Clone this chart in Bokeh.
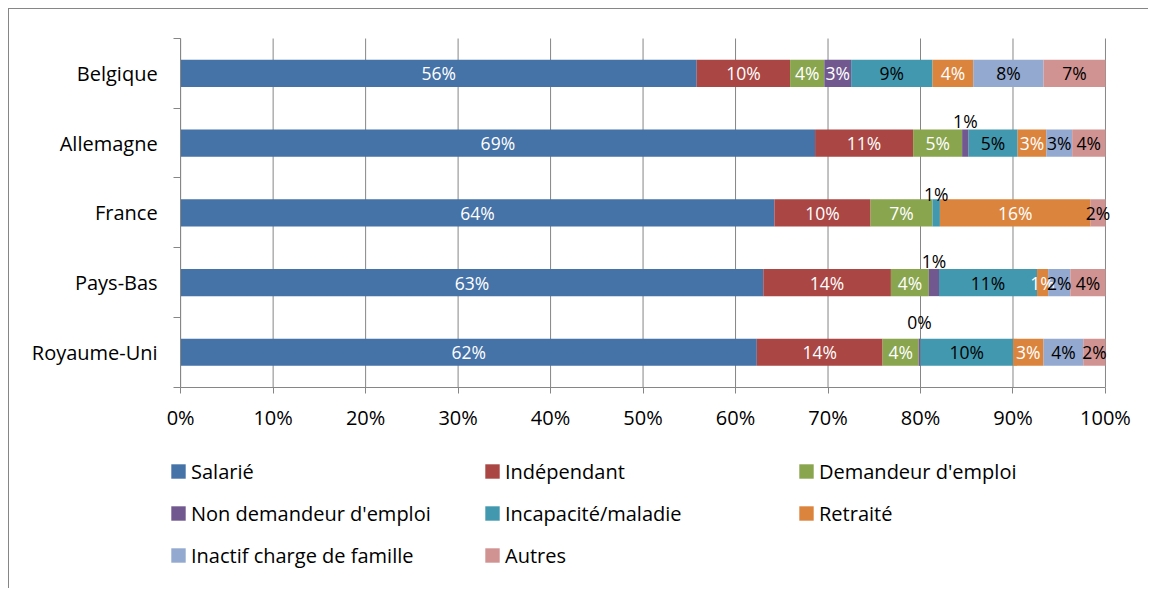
from bokeh.plotting import figure
from bokeh.models import (ColumnDataSource, Range1d, FixedTicker, PrintfTickFormatter,
                          Legend, LegendItem)
from bokeh.core.properties import value
from bokeh.embed import file_html
from bokeh.resources import INLINE

# ---------------- data ----------------
countries = ["Belgique", "Allemagne", "France", "Pays-Bas", "Royaume-Uni"]
series = ["Salarié", "Indépendant", "Demandeur d'emploi", "Non demandeur d'emploi",
          "Incapacité/maladie", "Retraité", "Inactif charge de famille", "Autres"]

salarie       = [55.8, 68.6, 64.2, 63.0, 62.3]
independant   = [10.1, 10.6, 10.4, 13.8, 13.6]
demandeur     = [3.7, 5.3, 6.7, 4.1, 3.9]
non_demandeur = [2.9, 0.7, 0.0, 1.1, 0.2]
incapacite    = [8.8, 5.3, 0.8, 10.6, 10.0]
retraite      = [4.4, 3.1, 16.3, 1.2, 3.3]
inactif       = [7.6, 2.8, 0.0, 2.4, 4.3]
autres        = [6.7, 3.6, 1.6, 3.8, 2.4]

x_ticks = [0, 10, 20, 30, 40, 50, 60, 70, 80, 90, 100]

# ---------------- styles / layout ----------------
values = [salarie, independant, demandeur, non_demandeur, incapacite, retraite, inactif, autres]
colors = ["#4572A7", "#AA4643", "#89A54E", "#71588F", "#4198AF", "#DB843D", "#93A9CF", "#D19392"]
label_colors = ["white", "white", "white", "white", "black", "white", "black", "black"]
label_lift = {("Allemagne", "Non demandeur d'emploi"): -22,
              ("France", "Incapacité/maladie"): -19,
              ("Pays-Bas", "Non demandeur d'emploi"): -22,
              ("Royaume-Uni", "Non demandeur d'emploi"): -30}
GRAY = "#868686"
FONT = "Open Sans"

W, H = 1140, 580               # figure size (1px border inside)
CW, CH = W - 1, H - 1          # canvas size
# plot area of the bars, in canvas pixels
AX_L, AX_R, AX_T, AX_B = 171, 1095, 29, 377
# frame (bigger, so that axis labels and legend fit inside it)
FR_L, FR_R, FR_T, FR_B = 5, 1130, 20, 577

n = len(countries)
xs_per_px = 100.0 / (AX_R - AX_L)
ys_per_px = n / (AX_B - AX_T)
x_range = Range1d(-(AX_L - FR_L) * xs_per_px, 100 + (FR_R - AX_R) * xs_per_px)
y_range = Range1d(-(FR_B - AX_B) * ys_per_px, n + (AX_T - FR_T) * ys_per_px)

ys = [n - i - 0.5 for i in range(n)]
keys = [f"s{j}" for j in range(len(series))]
data = {"y": ys}
for k, vals in zip(keys, values):
    data[k] = vals
src = ColumnDataSource(data)

p = figure(width=W, height=H, x_range=x_range, y_range=y_range,
           output_backend="svg", toolbar_location=None,
           min_border_left=FR_L, min_border_right=CW - FR_R,
           min_border_top=FR_T, min_border_bottom=CH - FR_B,
           outline_line_color=None,
           styles={"position": "relative", "left": "8px", "top": "8px",
                   "border-left": f"1px solid {GRAY}", "border-top": f"1px solid {GRAY}"})

# vertical gridlines limited to the bar area
p.segment(x0=x_ticks, y0=[0] * len(x_ticks), x1=x_ticks, y1=[n] * len(x_ticks),
          line_color=GRAY, line_width=1)

renderers = p.hbar_stack(keys, y="y", height=0.39, color=colors, line_color=None, source=src)

# data labels
lx, ly, lt, lc, lo = [], [], [], [], []
for i, c in enumerate(countries):
    left = 0.0
    for j, s in enumerate(series):
        v = values[j][i]
        if v > 0:
            off = label_lift.get((c, s), 0)
            lx.append(left + v / 2)
            ly.append(ys[i])
            lt.append(f"{v:.0f}%")
            lo.append(off)
            lc.append(label_colors[j] if off == 0 else "black")
        left += v
lsrc = ColumnDataSource(dict(x=lx, y=ly, text=lt, color=lc, off=lo))
p.text(x="x", y="y", text="text", source=lsrc, text_color="color", y_offset="off",
       text_align="center", text_baseline="middle",
       text_font=value(FONT), text_font_size="17.5px")

# x axis
xa = p.xaxis[0]
xa.fixed_location = 0
xa.bounds = (0, 100)
xa.ticker = FixedTicker(ticks=x_ticks)
xa.formatter = PrintfTickFormatter(format="%d%%")
xa.axis_line_color = GRAY
xa.major_tick_line_color = GRAY
xa.major_tick_out = 6
xa.major_tick_in = 0
xa.minor_tick_line_color = None
xa.major_label_standoff = 11
xa.major_label_text_font = FONT
xa.major_label_text_font_size = "20px"
xa.major_label_text_color = "black"

# y axis (labels at centres, ticks at category boundaries)
ya = p.yaxis[0]
ya.fixed_location = 0
ya.bounds = (0, n)
ya.ticker = FixedTicker(ticks=ys, minor_ticks=list(range(0, n + 1)))
ya.major_label_overrides = {y: c for y, c in zip(ys, countries)}
ya.axis_line_color = GRAY
ya.major_tick_line_color = None
ya.major_tick_out = 0
ya.major_tick_in = 0
ya.minor_tick_line_color = GRAY
ya.minor_tick_out = 7
ya.minor_tick_in = 0
ya.major_label_standoff = 16
ya.major_label_text_font = FONT
ya.major_label_text_font_size = "20px"
ya.major_label_text_color = "black"

p.xgrid.visible = False
p.ygrid.visible = False

LEG_L, LEG_B = 160, 566        # legend bottom-left, canvas pixels
lg = Legend(items=[LegendItem(label=s, renderers=[r]) for s, r in zip(series, renderers)])
lg.location = (LEG_L - FR_L, FR_B - LEG_B)
lg.orientation = "horizontal"
lg.ncols = 3
lg.glyph_width = 18
lg.glyph_height = 18
lg.label_standoff = 4
lg.label_width = 292
lg.label_height = 42
lg.spacing = 0
lg.padding = 0
lg.margin = 0
lg.border_line_color = None
lg.background_fill_alpha = 0
lg.label_text_font = FONT
lg.label_text_font_size = "20px"
lg.label_text_color = "black"
p.add_layout(lg)

open("out.html", "w").write(file_html(p, INLINE))
